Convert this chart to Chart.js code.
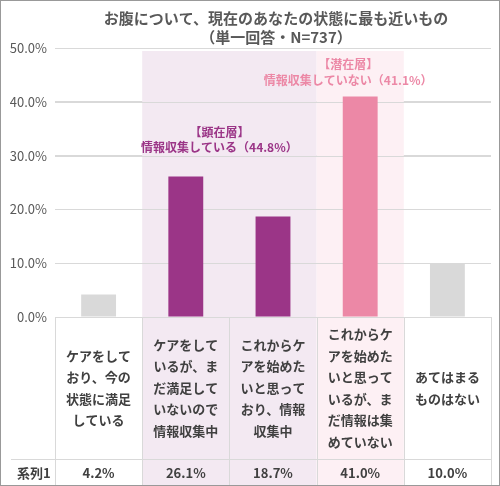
<!DOCTYPE html>
<html><head><meta charset="utf-8">
<script src="https://cdn.jsdelivr.net/npm/chart.js@4"></script>
<style>body{margin:0;background:#fff}#wrap{width:500px;height:486px;position:relative;box-sizing:border-box;border:1px solid #999}</style>
</head><body><div id="wrap"><canvas id="c"></canvas></div>
<script>
const categories = [
  ['ケアをして','おり、今の','状態に満足','している'],
  ['ケアをして','いるが、ま','だ満足して','いないので','情報収集中'],
  ['これからケ','アを始めた','いと思って','おり、情報','収集中'],
  ['これからケ','アを始めた','いと思って','いるが、ま','だ情報は集','めていない'],
  ['あてはまる','ものはない']
];
const values = [4.2, 26.1, 18.7, 41.0, 10.0];
const valueLabels = ['4.2%', '26.1%', '18.7%', '41.0%', '10.0%'];
const seriesName = '系列1';
const barColors = ['#d9d9d9', '#9b3587', '#9b3587', '#ec88a6', '#d9d9d9'];
const titleLines = ['お腹について、現在のあなたの状態に最も近いもの', '（単一回答・N=737）'];

const FONT = '"Noto Sans CJK JP", "Noto Sans", sans-serif';

const overlay = {
  id: 'overlay',
  beforeDatasetsDraw(chart) {
    const {ctx, scales: {x, y}, chartArea} = chart;
    const half = (x.getPixelForValue(1) - x.getPixelForValue(0)) / 2;
    const bottom = chart.height;
    ctx.save();
    ctx.fillStyle = '#f3e9f2';
    ctx.fillRect(x.getPixelForValue(1) - half, y.getPixelForValue(50) + 3, half * 4, bottom - y.getPixelForValue(50));
    ctx.fillStyle = '#fdf0f4';
    ctx.fillRect(x.getPixelForValue(3) - half, y.getPixelForValue(50) + 3, half * 2, bottom - y.getPixelForValue(50));
    // grid redraw over shading
    ctx.strokeStyle = '#d9d9d9'; ctx.lineWidth = 1;
    for (let v = 10; v <= 50; v += 10) {
      const py = Math.round(y.getPixelForValue(v)) + 0.5;
      ctx.beginPath(); ctx.moveTo(chartArea.left, py); ctx.lineTo(chartArea.right, py); ctx.stroke();
    }
    ctx.restore();
  },
  afterDraw(chart) {
    const {ctx, scales: {x, y}, chartArea} = chart;
    const half = (x.getPixelForValue(1) - x.getPixelForValue(0)) / 2;
    const top = chartArea.bottom;
    const rowY = 458;
    ctx.save();
    // title
    ctx.fillStyle = '#595959'; ctx.textAlign = 'center'; ctx.textBaseline = 'middle';
    ctx.font = 'bold 15px ' + FONT;
    ctx.fillText(titleLines[0], 275, 17);
    ctx.fillText(titleLines[1], 275, 36);
    // table lines
    ctx.strokeStyle = '#d9d9d9'; ctx.lineWidth = 1;
    ctx.beginPath();
    ctx.moveTo(chartArea.left, top + 0.5); ctx.lineTo(chartArea.right, top + 0.5);
    ctx.moveTo(10, rowY + 0.5); ctx.lineTo(chartArea.right, rowY + 0.5);
    for (let i = 0; i <= categories.length; i++) {
      const px = Math.round(x.getPixelForValue(i) - half) + 0.5;
      ctx.moveTo(px, top); ctx.lineTo(px, chart.height);
    }
    ctx.stroke();
    // category labels
    ctx.fillStyle = '#404040'; ctx.font = 'bold 13px ' + FONT;
    categories.forEach((lines, i) => {
      const cx = x.getPixelForValue(i);
      const lh = 21.5;
      const start = (top + rowY) / 2 - (lines.length - 1) * lh / 2;
      lines.forEach((t, j) => ctx.fillText(t, cx, start + j * lh));
      ctx.fillText(valueLabels[i], cx, rowY + 14);
    });
    ctx.textAlign = 'left';
    ctx.fillText(seriesName, 16, rowY + 14);
    // annotations
    ctx.textAlign = 'center'; ctx.font = 'bold 12px ' + FONT;
    ctx.fillStyle = '#9b3587';
    const ax = x.getPixelForValue(1.5) - 10;
    ctx.fillText('【顕在層】', ax, 131);
    ctx.fillText('情報収集している（44.8%）', ax, 146);
    ctx.fillStyle = '#ec88a6';
    const bx = x.getPixelForValue(3) - 12;
    ctx.fillText('【潜在層】', bx, 63);
    ctx.fillText('情報収集していない（41.1%）', bx, 79);
    ctx.restore();
  }
};

new Chart(document.getElementById('c'), {
  type: 'bar',
  data: {
    labels: categories.map(c => c.join('')),
    datasets: [{ label: seriesName, data: values, backgroundColor: barColors, categoryPercentage: 1, barPercentage: 0.4 }]
  },
  options: {
    responsive: true, maintainAspectRatio: false, animation: false,
    layout: { padding: { top: 47, bottom: 168, right: 8 } },
    plugins: { legend: { display: false }, title: { display: false }, tooltip: { enabled: false } },
    scales: {
      x: { display: false },
      y: {
        min: 0, max: 50,
        ticks: { stepSize: 10, color: '#595959', font: { size: 13, family: FONT }, callback: v => v.toFixed(1) + '%', padding: 8 },
        grid: { color: '#d9d9d9', drawTicks: false },
        border: { display: false },
        afterFit(s) { s.width = 54; }
      }
    }
  },
  plugins: [overlay]
});
</script></body></html>
